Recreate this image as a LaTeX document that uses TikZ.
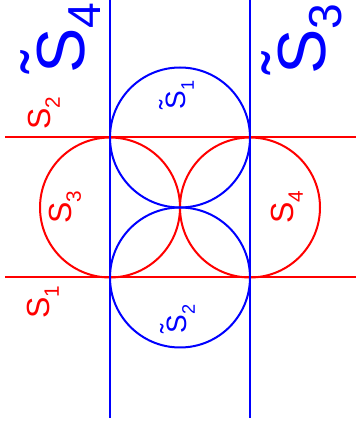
\documentclass[tikz,border=0pt]{standalone}
\usepackage{fontspec}
\setmainfont{Liberation Sans}
\usepackage{graphicx}
\definecolor{pblue}{RGB}{0,0,255}
\definecolor{pred}{RGB}{255,0,0}
\newcommand{\tlS}{\ooalign{S\cr\raisebox{0.22em}{\char"02DC}\hfil\cr}}
\newcommand{\subx}[1]{\raisebox{-0.3em}{\scalebox{0.65}{#1}}}
\newcommand{\subb}[1]{\raisebox{-0.24em}{\scalebox{0.68}{#1}}}
\begin{document}
\begin{tikzpicture}[x=1pt,y=1pt,
  bl/.style={draw=pblue,line width=2pt},
  rd/.style={draw=pred,line width=2pt},
  lbl/.style={rotate=90,inner sep=0pt,anchor=center},
  big/.style={lbl,text=pblue,font=\fontsize{68}{72}\selectfont},
  smb/.style={lbl,text=pblue,font=\fontsize{28}{32}\selectfont},
  smr/.style={lbl,text=pred,font=\fontsize{32}{36}\selectfont}]
\useasboundingbox (0,0) rectangle (356,431);
\coordinate (v1t) at (110,431); \coordinate (v1b) at (110,13);
\coordinate (v2t) at (250,431); \coordinate (v2b) at (250,13);
\coordinate (h1l) at (5,293.5); \coordinate (h1r) at (356,293.5);
\coordinate (h2l) at (5,153.5); \coordinate (h2r) at (356,153.5);
\coordinate (c1) at (180,293.5);
\coordinate (c2) at (180,153.5);
\coordinate (c3) at (110,223.5);
\coordinate (c4) at (250,223.5);
\draw[rd] (c3) circle[radius=70];
\draw[rd] (c4) circle[radius=70];
\draw[bl] (c1) circle[radius=70];
\draw[bl] (c2) circle[radius=70];
\draw[rd] (h1l) -- (h1r);
\draw[rd] (h2l) -- (h2r);
\draw[bl] (v1t) -- (v1b);
\draw[bl] (v2t) -- (v2b);
\node[big] (t4) at (69,393) {\tlS\subb{4}};
\node[big] (t3) at (310,392) {\tlS\subb{3}};
\node[smb] (t1) at (180,336) {\tlS\subx{1}};
\node[smb] (t2) at (181,112) {\tlS\subx{2}};
\node[smr] (s2) at (44,318) {S\subx{2}};
\node[smr] (s1) at (43,129) {S\subx{1}};
\node[smr] (s3) at (65,224) {S\subx{3}};
\node[smr] (s4) at (287,224) {S\subx{4}};
\end{tikzpicture}
\end{document}
